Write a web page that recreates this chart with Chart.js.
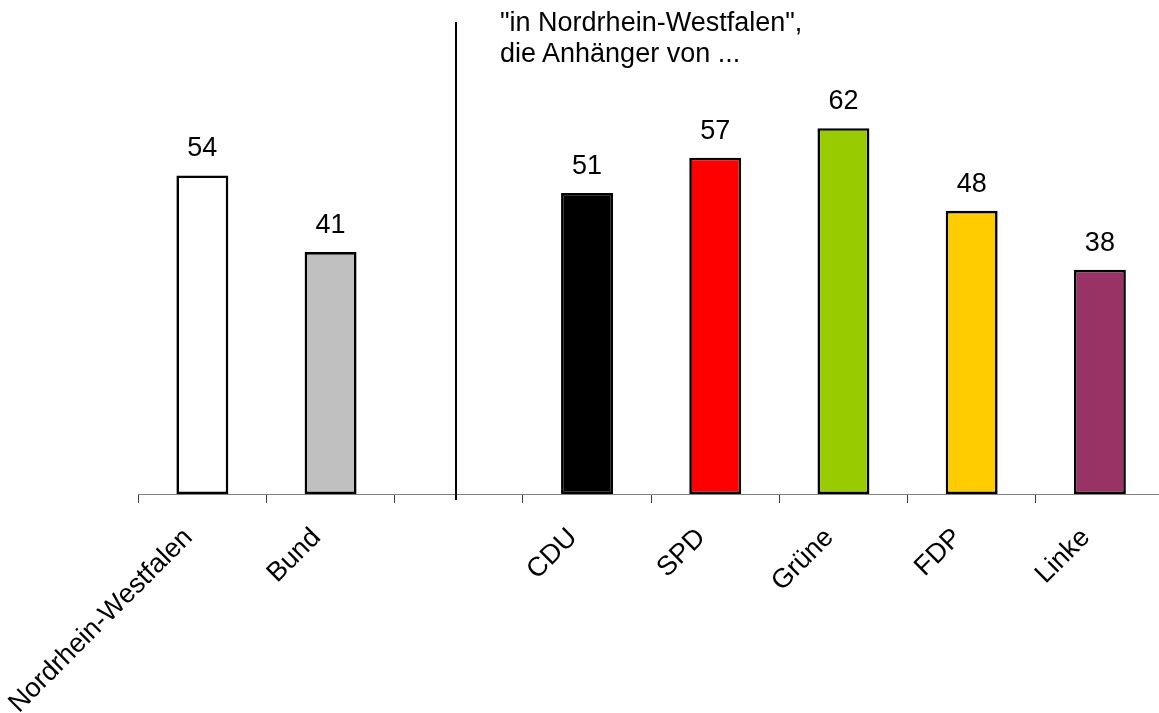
<!DOCTYPE html>
<html>
<head>
<meta charset="utf-8">
<script src="https://cdn.jsdelivr.net/npm/chart.js@4.4.1/dist/chart.umd.min.js"></script>
<style>
  html, body { margin: 0; padding: 0; background: #fff; overflow: hidden; }
  #wrap { position: relative; width: 1164px; height: 713px; }
  #note { position: absolute; left: 500px; top: 7px; font: 27px "Liberation Sans", Arial, sans-serif; line-height: 31px; color: #000; white-space: nowrap; }
</style>
</head>
<body>
<div id="wrap">
  <canvas id="c"></canvas>
  <div id="note">"in Nordrhein-Westfalen",<br>die Anhänger von ...</div>
</div>
<script>
const categories = ['Nordrhein-Westfalen', 'Bund', '', 'CDU', 'SPD', 'Grüne', 'FDP', 'Linke'];
const values = [54, 41, null, 51, 57, 62, 48, 38];
const barColors = ['#FFFFFF', '#C0C0C0', '#FFFFFF', '#000000', '#FF0000', '#99CC00', '#FFCC00', '#993366'];
const separatorIndex = 2;
const FONT = '"Liberation Sans", Arial, sans-serif';

const valueLabels = {
  id: 'valueLabels',
  afterDatasetsDraw(chart) {
    const ctx = chart.ctx;
    const meta = chart.getDatasetMeta(0);
    ctx.save();
    ctx.font = '27px ' + FONT;
    ctx.fillStyle = '#000';
    ctx.textAlign = 'center';
    ctx.textBaseline = 'alphabetic';
    meta.data.forEach((bar, i) => {
      const v = values[i];
      if (v === null || v === undefined) return;
      ctx.fillText(String(v), bar.x, bar.y - 19);
    });
    ctx.restore();
  }
};

const separator = {
  id: 'separator',
  afterDraw(chart) {
    const xs = chart.scales.x;
    const ctx = chart.ctx;
    const x = Math.round(xs.getPixelForValue(separatorIndex) - 2.5);
    ctx.save();
    ctx.strokeStyle = '#000';
    ctx.lineWidth = 2;
    ctx.beginPath();
    ctx.moveTo(x, chart.chartArea.top);
    ctx.lineTo(x, chart.chartArea.bottom + 6);
    ctx.stroke();
    ctx.restore();
  }
};

new Chart(document.getElementById('c'), {
  type: 'bar',
  data: {
    labels: categories,
    datasets: [{
      data: values,
      backgroundColor: barColors,
      borderColor: '#000',
      borderWidth: 2.6,
      borderSkipped: false,
      categoryPercentage: 1,
      barPercentage: 0.405
    }]
  },
  options: {
    responsive: true,
    maintainAspectRatio: false,
    animation: false,
    layout: { padding: { left: 138, right: 0, top: 22, bottom: 0 } },
    plugins: { legend: { display: false }, tooltip: { enabled: false }, title: { display: false } },
    scales: {
      x: {
        offset: true,
        grid: { display: true, drawOnChartArea: false, drawTicks: true, tickLength: 9, color: '#404040', offset: true },
        border: { display: true, color: '#808080', width: 1 },
        ticks: { color: '#000', font: { family: FONT, size: 27 }, minRotation: 45, maxRotation: 45, autoSkip: false, padding: 19, labelOffset: -14 },
        afterFit(scale) { scale.height = 219; }
      },
      y: {
        display: false,
        min: 0,
        max: 80
      }
    }
  },
  plugins: [valueLabels, separator]
});
</script>
</body>
</html>
